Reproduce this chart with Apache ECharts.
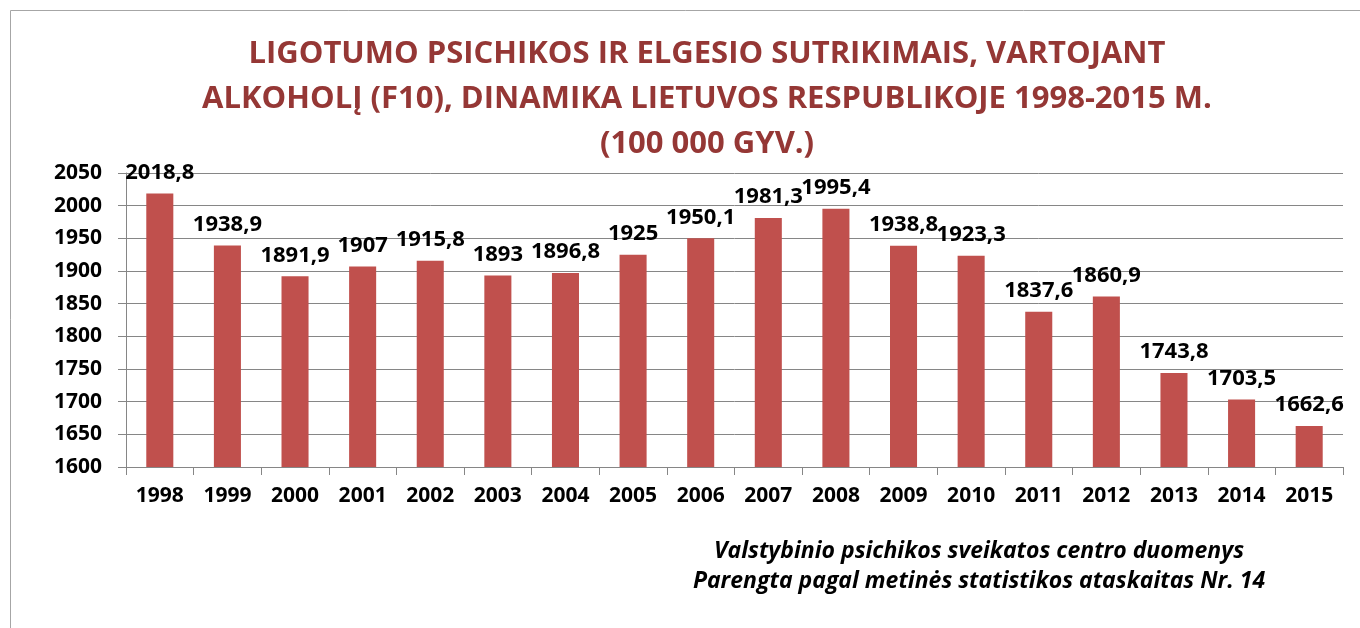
<!DOCTYPE html>
<html>
<head>
<meta charset="utf-8">
<script src="https://cdn.jsdelivr.net/npm/echarts@6/dist/echarts.min.js"></script>
<style>
html,body{margin:0;padding:0;background:#fff;}
#chart{width:1360px;height:628px;}
</style>
</head>
<body>
<div id="chart"></div>
<script>
const titleLines = [
  'LIGOTUMO PSICHIKOS IR ELGESIO SUTRIKIMAIS, VARTOJANT',
  'ALKOHOLĮ (F10), DINAMIKA LIETUVOS RESPUBLIKOJE 1998-2015 M.',
  '(100 000 GYV.)'
];
const footerLines = [
  'Valstybinio psichikos sveikatos centro duomenys',
  'Parengta pagal metinės statistikos ataskaitas Nr. 14'
];
const years = ['1998','1999','2000','2001','2002','2003','2004','2005','2006','2007','2008','2009','2010','2011','2012','2013','2014','2015'];
const values = [2018.8,1938.9,1891.9,1907,1915.8,1893,1896.8,1925,1950.1,1981.3,1995.4,1938.8,1923.3,1837.6,1860.9,1743.8,1703.5,1662.6];
const yMin = 1600, yMax = 2050, yStep = 50;

const numFont = "'Open Sans', 'Noto Sans', sans-serif";
const chart = echarts.init(document.getElementById('chart'), null, {renderer:'canvas'});
chart.setOption({
  backgroundColor:'#fff',
  animation:false,
  title:{
    text: titleLines.join('\n'),
    left: 702, textAlign:'center', top: 27,
    textStyle:{
      fontFamily:"'Open Sans',sans-serif",
      fontWeight:'bold', fontSize:31, lineHeight:45, color:'#953735'
    }
  },
  graphic:[
    {type:'rect', shape:{x:10.5,y:10.5,width:1360,height:640}, style:{fill:'none', stroke:'#a6a6a6', lineWidth:1}, silent:true, z:-1},
    {type:'text', x:979, y:536, style:{
      text: footerLines.join('\n'), align:'center', verticalAlign:'top', fill:'#000',
      font:"italic bold 23px 'Open Sans', sans-serif", lineHeight:30
    }}
  ],
  grid:{left:126, right:17, top:173, bottom:161},
  xAxis:{
    type:'category', data: years,
    axisLine:{show:true, lineStyle:{color:'#868686', width:1}},
    axisTick:{show:true, length:8, alignWithLabel:false, lineStyle:{color:'#868686'}},
    axisLabel:{color:'#000', fontFamily:numFont, fontWeight:'bold', fontSize:21, margin:19}
  },
  yAxis:{
    type:'value', min:yMin, max:yMax, interval:yStep,
    axisLine:{show:true, lineStyle:{color:'#868686', width:1}},
    axisTick:{show:true, length:8, lineStyle:{color:'#868686'}},
    splitLine:{show:true, lineStyle:{color:'#868686', width:1}},
    axisLabel:{color:'#000', fontFamily:numFont, fontWeight:'bold', fontSize:21, margin:24,
      formatter: v => String(v)}
  },
  series:[{
    type:'bar', data: values, barWidth:'40%',
    itemStyle:{color:'#C0504D'},
    label:{
      show:true, position:'top', distance:10, color:'#000',
      fontFamily:numFont, fontWeight:'bold', fontSize:22,
      formatter: p => String(p.value).replace('.', ',')
    }
  }]
});
</script>
</body>
</html>
